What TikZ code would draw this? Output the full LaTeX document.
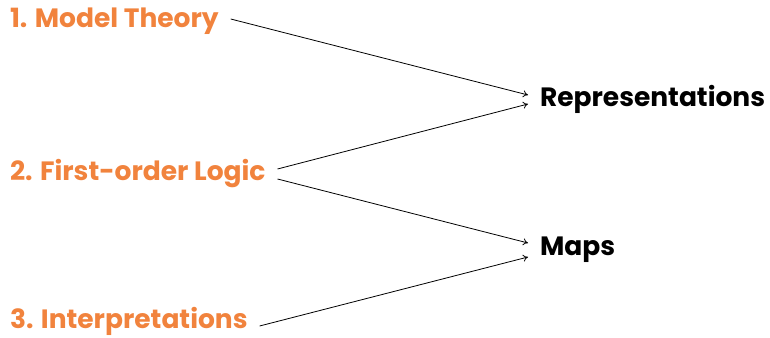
\documentclass[tikz,border=0pt]{standalone}
\usepackage{fontspec}
\setmainfont{Poppins}
\usetikzlibrary{arrows.meta}

\definecolor{topicorange}{RGB}{241,131,61}

\tikzset{
    topic/.style={anchor=west, inner xsep=0pt, inner ysep=0pt, outer sep=0pt,
        font=\fontsize{26.5}{30}\selectfont\bfseries, text=topicorange},
    target/.style={topic, text=black},
    link/.style={-{To[length=5pt,width=7pt]}, line width=0.8pt}
}

\begin{document}
\begin{tikzpicture}[x=1pt,y=1pt]
    \useasboundingbox (0,0) rectangle (770,337);

    \node[topic] (model) at (10,316) {1. Model Theory};
    \node[topic] (logic) at (10,163) {2. First-order Logic};
    \node[topic] (interp) at (10,16) {3. Interpretations};

    \node[target] (repr) at (540,238) {Representations};
    \node[target] (maps) at (540,87) {Maps};

    \draw[link] ([xshift=12pt,yshift=2pt]model.east) -- ([xshift=-12pt,yshift=4pt]repr.west);
    \draw[link] ([xshift=12pt,yshift=5pt]logic.east) -- ([xshift=-12pt,yshift=-5pt]repr.west);
    \draw[link] ([xshift=12pt,yshift=-5pt]logic.east) -- ([xshift=-12pt,yshift=7pt]maps.west);
    \draw[link] ([xshift=12pt,yshift=-5pt]interp.east) -- ([xshift=-12pt,yshift=-7pt]maps.west);
\end{tikzpicture}
\end{document}
